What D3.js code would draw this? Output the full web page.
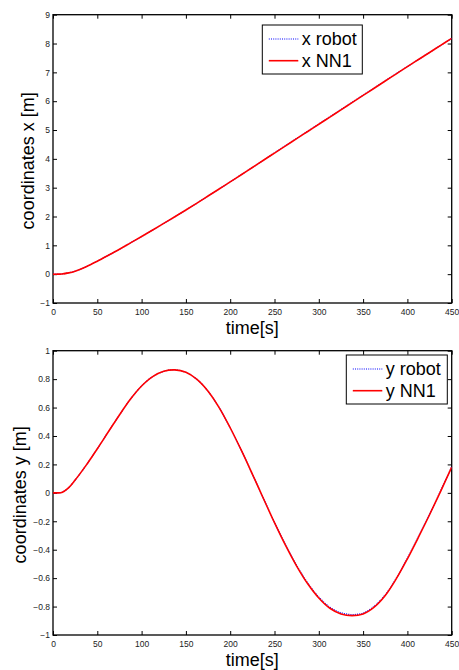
<!DOCTYPE html>
<html>
<head>
<meta charset="utf-8">
<script src="https://cdn.jsdelivr.net/npm/d3@7"></script>
<style>
  body { margin: 0; background: #fff; }
  svg { display: block; font-family: "Liberation Sans", Arial, sans-serif; }
</style>
</head>
<body>
<div id="chart"></div>
<script>
// time samples [s]
const time = [0, 5, 10, 17.5, 25, 37.5, 50, 62.5, 75, 87.5, 100, 112.5, 125, 137.5, 150,
  162.5, 175, 187.5, 200, 212.5, 225, 237.5, 250, 262.5, 275, 287.5, 300, 312.5, 325,
  337.5, 350, 362.5, 375, 387.5, 400, 412.5, 425, 437.5, 450];

// x coordinate [m]
const xRobot = [0, 0, 0.008, 0.045, 0.105, 0.26, 0.45, 0.655, 0.865, 1.085, 1.305, 1.53, 1.76, 1.99, 2.225,
  2.465, 2.71, 2.955, 3.2, 3.45, 3.7, 3.95, 4.21, 4.46, 4.71, 4.96, 5.21, 5.46, 5.71,
  5.96, 6.21, 6.46, 6.71, 6.96, 7.2, 7.445, 7.69, 7.935, 8.18];
const xNN1 = [0, 0, 0.008, 0.045, 0.105, 0.26, 0.45, 0.655, 0.865, 1.085, 1.305, 1.53, 1.76, 1.99, 2.225,
  2.465, 2.71, 2.955, 3.2, 3.45, 3.7, 3.95, 4.2, 4.45, 4.7, 4.95, 5.2, 5.45, 5.7,
  5.95, 6.2, 6.45, 6.7, 6.95, 7.2, 7.445, 7.69, 7.935, 8.18];

// y coordinate [m]
const yRobot = [0, 0, 0.003, 0.035, 0.09, 0.195, 0.31, 0.43, 0.548, 0.66, 0.752, 0.818, 0.855, 0.865, 0.848,
  0.798, 0.715, 0.6, 0.458, 0.3, 0.132, -0.04, -0.208, -0.366, -0.51, -0.634, -0.733, -0.804, -0.843,
  -0.856, -0.845, -0.798, -0.717, -0.6, -0.46, -0.308, -0.15, 0.014, 0.183];
const yNN1 = [0, 0, 0.003, 0.035, 0.09, 0.195, 0.31, 0.43, 0.548, 0.66, 0.752, 0.818, 0.855, 0.865, 0.848,
  0.798, 0.715, 0.6, 0.458, 0.3, 0.132, -0.04, -0.21, -0.37, -0.515, -0.64, -0.74, -0.812, -0.852,
  -0.864, -0.852, -0.804, -0.722, -0.604, -0.464, -0.312, -0.154, 0.011, 0.181];

const xTicks = [0, 50, 100, 150, 200, 250, 300, 350, 400, 450];
const xPosTicks = [-1, 0, 1, 2, 3, 4, 5, 6, 7, 8, 9];
const yPosTicks = [-1, -0.8, -0.6, -0.4, -0.2, 0, 0.2, 0.4, 0.6, 0.8, 1];

const W = 459, H = 670;
const svg = d3.select("#chart").append("svg")
  .attr("width", W)
  .attr("height", H);

function panel(cfg) {
  const left = 53, right = 451.7;
  const x = d3.scaleLinear().domain([0, 450]).range([left, right]);
  const y = d3.scaleLinear().domain(cfg.yDomain).range([cfg.bottom, cfg.top]);

  const g = svg.append("g");

  g.append("clipPath").attr("id", cfg.id + "-clip")
    .append("rect")
    .attr("x", left).attr("y", cfg.top)
    .attr("width", right - left).attr("height", cfg.bottom - cfg.top);

  // inward ticks on all four sides, like matlab's box
  g.append("g")
    .attr("transform", `translate(0,${cfg.bottom})`)
    .call(d3.axisBottom(x).tickValues(xTicks).tickSize(-4).tickPadding(6).tickSizeOuter(0))
    .call(a => a.select(".domain").remove());
  g.append("g")
    .attr("transform", `translate(0,${cfg.top})`)
    .call(d3.axisTop(x).tickValues(xTicks).tickSize(-4).tickFormat("").tickSizeOuter(0))
    .call(a => a.select(".domain").remove());
  g.append("g")
    .attr("transform", `translate(${left},0)`)
    .call(d3.axisLeft(y).tickValues(cfg.yTicks).tickSize(-4).tickPadding(3).tickSizeOuter(0)
      .tickFormat(d3.format("")))
    .call(a => a.select(".domain").remove());
  g.append("g")
    .attr("transform", `translate(${right},0)`)
    .call(d3.axisRight(y).tickValues(cfg.yTicks).tickSize(-4).tickFormat("").tickSizeOuter(0))
    .call(a => a.select(".domain").remove());

  g.selectAll(".tick line").attr("stroke", "#000").attr("stroke-width", 1);
  g.selectAll(".tick text")
    .attr("fill", "#222")
    .style("font-size", "8.5px")
    .style("font-family", "'Liberation Sans', Arial, sans-serif");

  g.append("rect")
    .attr("x", left).attr("y", cfg.top)
    .attr("width", right - left).attr("height", cfg.bottom - cfg.top)
    .attr("fill", "none")
    .attr("stroke", "#000")
    .attr("stroke-width", 1.3);

  const line = d3.line()
    .x((d, i) => x(time[i]))
    .y(d => y(d))
    .curve(d3.curveCatmullRom.alpha(0.5));

  const lines = g.append("g").attr("clip-path", `url(#${cfg.id}-clip)`);
  lines.append("path")
    .datum(cfg.robot)
    .attr("d", line)
    .attr("fill", "none")
    .attr("stroke", "#0000ff")
    .attr("stroke-width", 1.2)
    .attr("stroke-dasharray", "1,1.2");
  lines.append("path")
    .datum(cfg.nn)
    .attr("d", line)
    .attr("fill", "none")
    .attr("stroke", "#ff0000")
    .attr("stroke-width", 1.6);

  // axis labels
  g.append("text")
    .attr("x", (left + right) / 2)
    .attr("y", cfg.bottom + 31)
    .attr("text-anchor", "middle")
    .style("font-size", "18px")
    .text("time[s]");
  g.append("text")
    .attr("transform", `translate(${cfg.ylabelX},${(cfg.top + cfg.bottom) / 2 + 2}) rotate(-90)`)
    .attr("text-anchor", "middle")
    .style("font-size", "18px")
    .text(cfg.ylabel);

  // legend
  const lg = cfg.legend;
  const leg = g.append("g");
  leg.append("rect")
    .attr("x", lg.x).attr("y", lg.y)
    .attr("width", lg.w).attr("height", 49)
    .attr("fill", "#fff")
    .attr("stroke", "#000")
    .attr("stroke-width", 1);
  const items = [
    { name: cfg.names[0], color: "#0000ff", dash: "1,1.2", w: 1.2 },
    { name: cfg.names[1], color: "#ff0000", dash: null, w: 1.6 }
  ];
  items.forEach((it, i) => {
    const cy = lg.y + 14 + i * 21.7;
    leg.append("line")
      .attr("x1", lg.x + 6.5).attr("x2", lg.x + 36)
      .attr("y1", cy).attr("y2", cy)
      .attr("stroke", it.color)
      .attr("stroke-width", it.w)
      .attr("stroke-dasharray", it.dash);
    leg.append("text")
      .attr("x", lg.x + 39.5)
      .attr("y", cy + 6)
      .style("font-size", "18px")
      .text(it.name);
  });
}

panel({
  id: "px", top: 14.7, bottom: 303, yDomain: [-1, 9], yTicks: xPosTicks,
  robot: xRobot, nn: xNN1, ylabel: "coordinates x [m]", ylabelX: 33.5,
  names: ["x robot", "x NN1"],
  legend: { x: 262.3, y: 25, w: 100 }
});

panel({
  id: "py", top: 350.7, bottom: 635, yDomain: [-1, 1], yTicks: yPosTicks,
  robot: yRobot, nn: yNN1, ylabel: "coordinates y [m]", ylabelX: 25.5,
  names: ["y robot", "y NN1"],
  legend: { x: 346.3, y: 355, w: 101 }
});
</script>
</body>
</html>
